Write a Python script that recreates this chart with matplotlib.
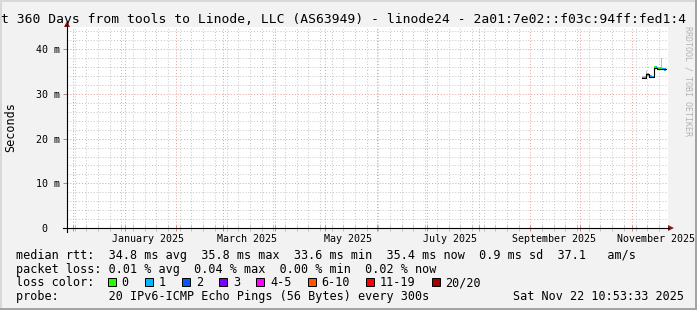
import datetime as dt
import matplotlib
matplotlib.use('Agg')
from matplotlib import pyplot
import matplotlib.dates as mdates
from matplotlib.patches import Rectangle, Polygon
from matplotlib.lines import Line2D
from matplotlib.transforms import blended_transform_factory


### figure preliminaries:
W, H = 697, 310
pyplot.rcParams.update({'font.family': 'DejaVu Sans Mono', 'font.size': 8.5})


#(0) values:
end_time   = dt.datetime(2025, 11, 22, 10, 53, 33)
span_days  = 360
days       = [dt.datetime(2025, 11, d) for d in range(7, 21)]
median_ms  = [33.6, 33.6, 34.4, 34.4, 33.9, 33.9, 33.8, 35.9, 35.9, 35.7, 35.7, 35.7, 35.6, 35.5]
loss_count = [1, 1, 0, 0, 1, 1, 1, 0, 1, 0, 0, 0, 1, 1]
smoke_lo   = [33.3, 33.3, 34.2, 34.2, 33.7, 33.7, 33.6, 35.6, 35.6, 35.5, 35.5, 35.6, 35.4, 35.3]
smoke_hi   = [34.0, 34.0, 35.2, 34.8, 34.2, 34.2, 34.1, 36.3, 36.2, 36.0, 36.0, 38.0, 35.9, 35.8]

loss_labels = ['0', '1', '2', '3', '4-5', '6-10', '11-19', '20/20']
loss_upper  = [0, 1, 2, 3, 5, 10, 19, 20]
loss_colors = ['#26ff00', '#00b8ff', '#0059ff', '#7e00ff', '#ff00ff', '#ff5500', '#ff0000', '#a00000']

month_labels = ['January 2025', 'March 2025', 'May 2025', 'July 2025', 'September 2025', 'November 2025']
month_label_dates = [dt.datetime(2025, m, 15) for m in (1, 3, 5, 7, 9, 11)]
y_ticks  = [0, 10, 20, 30, 40]
y_labels = ['0  ', '10 m', '20 m', '30 m', '40 m']

# the title is wider than the image, only this part of it is visible
title = 't 360 Days from tools to Linode, LLC (AS63949) - linode24 - 2a01:7e02::f03c:94ff:fed1:4'
line_rtt   = 'median rtt:  34.8 ms avg  35.8 ms max  33.6 ms min  35.4 ms now  0.9 ms sd  37.1   am/s'
line_loss  = 'packet loss: 0.01 % avg  0.04 % max  0.00 % min  0.02 % now'
line_probe = 'probe:       20 IPv6-ICMP Echo Pings (56 Bytes) every 300s'
stamp      = 'Sat Nov 22 10:53:33 2025'


def fx(x):
	return x / W

def fy(y):
	return 1 - y / H

def loss_color(n):
	for up, c in zip(loss_upper, loss_colors):
		if n <= up:
			return c
	return loss_colors[-1]


#(1) Plot:
pyplot.close('all')
fig = pyplot.figure(figsize=(W / 100, H / 100), dpi=100, facecolor='#f2f2f2')

# 3d frame
fig.add_artist(Rectangle((0, fy(2)), 1, 2 / H, transform=fig.transFigure, color='#d8d8d8', lw=0))
fig.add_artist(Rectangle((0, 0), fx(2), 1, transform=fig.transFigure, color='#d8d8d8', lw=0))
fig.add_artist(Rectangle((0, 0), 1, 2 / H, transform=fig.transFigure, color='#a4a4a4', lw=0))
fig.add_artist(Rectangle((fx(W - 2), 0), fx(2), 1, transform=fig.transFigure, color='#a4a4a4', lw=0))

ax = fig.add_axes([fx(67), fy(228), fx(668 - 67), (228 - 27) / H])
ax.set_facecolor('white')
ax.set_xlim(end_time - dt.timedelta(days=span_days), end_time)
ax.set_ylim(0, 45)
for s in ax.spines.values():
	s.set_visible(False)

# grid
ax.xaxis.set_major_locator(mdates.MonthLocator())
ax.xaxis.set_minor_locator(mdates.WeekdayLocator(byweekday=mdates.MO))
ax.set_yticks(y_ticks)
ax.set_yticks(range(0, 46, 2), minor=True)
ax.grid(which='minor', color='#c4c4c4', linestyle=(0, (1, 2)), lw=0.7)
ax.grid(which='major', color='#eb9a9a', linestyle=(0, (1, 2)), lw=0.7)
ax.set_axisbelow(True)
ax.tick_params(axis='x', which='major', direction='inout', length=4, width=0.7, color='#e08080', labelbottom=False)
ax.tick_params(axis='x', which='minor', direction='inout', length=4, width=0.7, color='#c0c0c0')
ax.tick_params(axis='y', which='major', direction='out', length=3, width=0.7, color='#909090', pad=2)
ax.tick_params(axis='y', which='minor', length=0)
ax.set_yticklabels(y_labels, fontsize=7.2)

# smoke + median coloured by loss
ax.bar(days, [h - l for h, l in zip(smoke_hi, smoke_lo)], bottom=smoke_lo, width=1, align='edge',
	   color='#bdbdbd', lw=0)
ax.step(days + [days[-1] + dt.timedelta(days=1)], median_ms + [median_ms[-1]], where='post', color='black', lw=0.8)
band = 2.6 * 45 / 201.0
ax.bar(days, [band] * len(days), bottom=[m - band / 2 for m in median_ms], width=1, align='edge',
	   color=[loss_color(n) for n in loss_count], lw=0)

# month labels
trans = blended_transform_factory(ax.transData, fig.transFigure)
for d, lab in zip(month_label_dates, month_labels):
	ax.text(d, fy(241.5), lab, transform=trans, ha='center', va='baseline', fontsize=7.2, clip_on=False)

# axes with arrows
fig.add_artist(Line2D([fx(63), fx(669)], [fy(228)] * 2, color='black', lw=0.8))
fig.add_artist(Line2D([fx(67)] * 2, [fy(232), fy(26)], color='black', lw=0.8))
fig.add_artist(Polygon([(fx(668), fy(225)), (fx(674), fy(228)), (fx(668), fy(231))], closed=True,
					   transform=fig.transFigure, color='#8c1c1c', lw=0))
fig.add_artist(Polygon([(fx(64), fy(27)), (fx(67), fy(21)), (fx(70), fy(27))], closed=True,
					   transform=fig.transFigure, color='#8c1c1c', lw=0))

# texts
fig.text(fx(1), fy(23), title, ha='left', va='baseline', fontsize=9.4)
fig.text(fx(11), fy(127.5), 'Seconds', rotation=90, ha='center', va='center', fontsize=8.5)
fig.text(fx(688), fy(26), 'RRDTOOL / TOBI OETIKER', rotation=270, ha='center', va='top', fontsize=6, color='#b4b4b4')

fig.text(fx(16), fy(258.5), line_rtt, ha='left', va='baseline')
fig.text(fx(16), fy(272.5), line_loss, ha='left', va='baseline')
fig.text(fx(16), fy(286.5), 'loss color:', ha='left', va='baseline')
bx = 108
for lab, c in zip(loss_labels, loss_colors):
	fig.add_artist(Rectangle((fx(bx), fy(286)), fx(8), 8 / H, transform=fig.transFigure,
							 facecolor=c, edgecolor='black', lw=0.7))
	fig.text(fx(bx + 13.5), fy(286.5), lab, ha='left', va='baseline')
	bx += 13.5 + len(lab) * 7.11 + 16.5
fig.text(fx(16), fy(300), line_probe, ha='left', va='baseline')
fig.text(fx(513), fy(300), stamp, ha='left', va='baseline')

pyplot.savefig('out.png', dpi=100, facecolor=fig.get_facecolor())
